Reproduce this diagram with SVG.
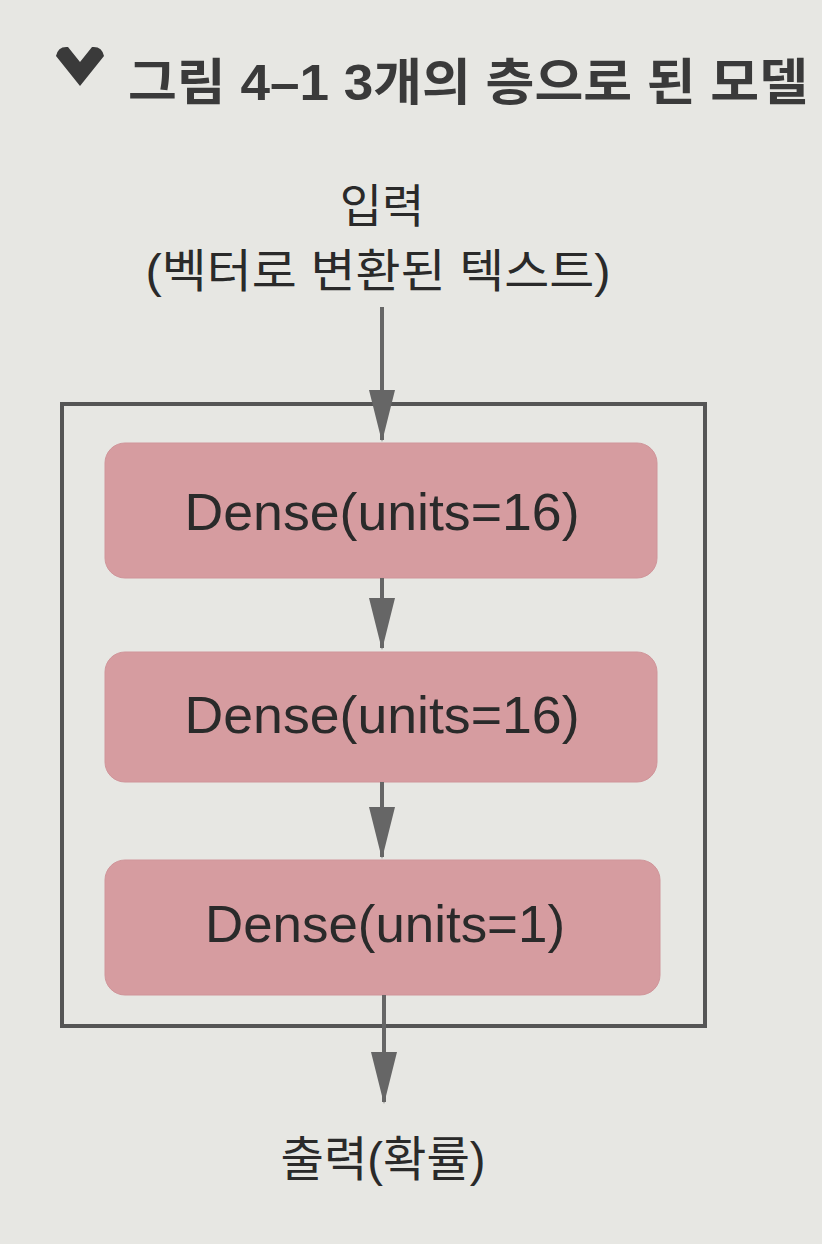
<svg xmlns="http://www.w3.org/2000/svg" width="822" height="1244" viewBox="0 0 822 1244">
<style>
.t{font-family:"Liberation Sans","Noto Sans CJK KR",sans-serif;fill:#2a2a2a;text-anchor:middle}
.box{fill:#d69ca0;stroke:#d0959a;stroke-width:1}
.ln{stroke:#666;stroke-width:4;fill:none}
</style>
<defs>
<marker id="ah" markerUnits="userSpaceOnUse" markerWidth="52" markerHeight="26" refX="50" refY="13" orient="auto" viewBox="0 0 52 26">
<path d="M0,0 L52,13 L0,26 Z" fill="#666"/>
</marker>
</defs>
<rect width="822" height="1244" fill="#e7e7e3"/>
<g id="title">
<path d="M56,56 Q58,46 68,47 L80,62 L92,47 Q102,46 104,56 L80,86 Z" fill="#3a3a3a"/>
<text x="128" y="100" font-family="'Liberation Sans','Noto Sans CJK KR',sans-serif" font-size="50" font-weight="bold" fill="#3a3a3a" textLength="680" lengthAdjust="spacingAndGlyphs">그림 4–1 3개의 층으로 된 모델</text>
</g>
<g id="input">
<text class="t" x="382" y="222" font-size="46">입력</text>
<text class="t" x="378" y="287" font-size="46" textLength="465" lengthAdjust="spacingAndGlyphs">(벡터로 변환된 텍스트)</text>
</g>
<g id="model">
<rect x="62" y="404" width="643" height="622" fill="none" stroke="#555" stroke-width="4"/>
</g>
<g id="dense1">
<rect class="box" x="105" y="443" width="552" height="135" rx="20"/>
<text class="t" x="382" y="530" font-size="52" textLength="395" lengthAdjust="spacingAndGlyphs">Dense(units=16)</text>
</g>
<g id="dense2">
<rect class="box" x="105" y="652" width="552" height="130" rx="20"/>
<text class="t" x="382" y="733" font-size="52" textLength="395" lengthAdjust="spacingAndGlyphs">Dense(units=16)</text>
</g>
<g id="dense3">
<rect class="box" x="105" y="860" width="555" height="135" rx="20"/>
<text class="t" x="385" y="942" font-size="52" textLength="360" lengthAdjust="spacingAndGlyphs">Dense(units=1)</text>
</g>
<g id="connectors">
<line class="ln" x1="382" y1="307" x2="382" y2="440" marker-end="url(#ah)"/>
<line class="ln" x1="382" y1="578" x2="382" y2="648" marker-end="url(#ah)"/>
<line class="ln" x1="382" y1="782" x2="382" y2="857" marker-end="url(#ah)"/>
<line class="ln" x1="384" y1="995" x2="384" y2="1102" marker-end="url(#ah)"/>
</g>
<g id="output">
<text class="t" x="383" y="1176" font-size="48" textLength="205" lengthAdjust="spacingAndGlyphs">출력(확률)</text>
</g>
</svg>
